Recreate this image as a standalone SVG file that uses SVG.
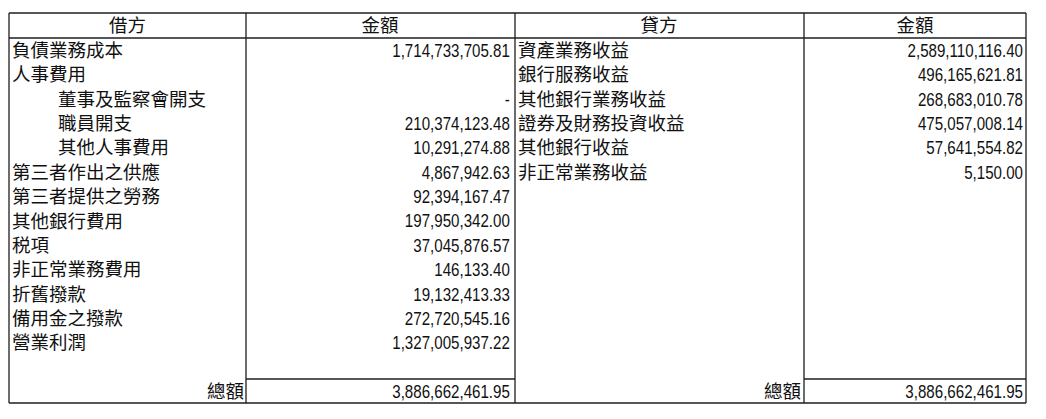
<svg xmlns="http://www.w3.org/2000/svg" width="1046" height="419" viewBox="0 0 1046 419">
<style>
.ln{stroke:#1e1e1e;stroke-width:1.3;fill:none}
.c{font-family:"Noto Sans CJK TC","Noto Sans CJK SC",sans-serif;font-size:18.5px;fill:#111}
.n{font-family:"Liberation Sans",Arial,sans-serif;font-size:18px;fill:#111;text-anchor:end}
.h{text-anchor:middle}
.e{text-anchor:end}
</style>
<rect width="1046" height="419" fill="#fff"/>
<g id="grid">
<line class="ln" x1="9" y1="13" x2="1026" y2="13"/>
<line class="ln" x1="9" y1="38" x2="1026" y2="38"/>
<line class="ln" x1="246" y1="379" x2="515" y2="379"/>
<line class="ln" x1="804" y1="379" x2="1026" y2="379"/>
<line class="ln" x1="9" y1="403" x2="1026" y2="403"/>
<line class="ln" x1="9" y1="13" x2="9" y2="403"/>
<line class="ln" x1="246" y1="13" x2="246" y2="403"/>
<line class="ln" x1="515" y1="13" x2="515" y2="403"/>
<line class="ln" x1="804" y1="13" x2="804" y2="403"/>
<line class="ln" x1="1026" y1="13" x2="1026" y2="403"/>
</g>
<g id="header">
<text class="c h" x="127.5" y="32">借方</text>
<text class="c h" x="380" y="32">金額</text>
<text class="c h" x="659" y="32">貸方</text>
<text class="c h" x="915" y="32">金額</text>
</g>
<g id="debit">
<text class="c" x="12" y="57">負債業務成本</text>
<text class="c" x="12" y="81.4">人事費用</text>
<text class="c" x="58" y="105.7">董事及監察會開支</text>
<text class="c" x="58" y="130.1">職員開支</text>
<text class="c" x="58" y="154.4">其他人事費用</text>
<text class="c" x="12" y="178.8">第三者作出之供應</text>
<text class="c" x="12" y="203.2">第三者提供之勞務</text>
<text class="c" x="12" y="227.5">其他銀行費用</text>
<text class="c" x="12" y="251.9">税項</text>
<text class="c" x="12" y="276.2">非正常業務費用</text>
<text class="c" x="12" y="300.6">折舊撥款</text>
<text class="c" x="12" y="325">備用金之撥款</text>
<text class="c" x="12" y="349.3">營業利潤</text>
<text class="c e" x="244" y="398">總額</text>
<g id="debit-amounts" transform="scale(0.84,1)">
<text class="n" x="607" y="57">1,714,733,705.81</text>
<text class="n" x="607" y="105.7">-</text>
<text class="n" x="607" y="130.1">210,374,123.48</text>
<text class="n" x="607" y="154.4">10,291,274.88</text>
<text class="n" x="607" y="178.8">4,867,942.63</text>
<text class="n" x="607" y="203.2">92,394,167.47</text>
<text class="n" x="607" y="227.5">197,950,342.00</text>
<text class="n" x="607" y="251.9">37,045,876.57</text>
<text class="n" x="607" y="276.2">146,133.40</text>
<text class="n" x="607" y="300.6">19,132,413.33</text>
<text class="n" x="607" y="325">272,720,545.16</text>
<text class="n" x="607" y="349.3">1,327,005,937.22</text>
<text class="n" x="607" y="398">3,886,662,461.95</text>
</g>
</g>
<g id="credit">
<text class="c" x="518" y="57">資產業務收益</text>
<text class="c" x="518" y="81.4">銀行服務收益</text>
<text class="c" x="518" y="105.7">其他銀行業務收益</text>
<text class="c" x="518" y="130.1">證券及財務投資收益</text>
<text class="c" x="518" y="154.4">其他銀行收益</text>
<text class="c" x="518" y="178.8">非正常業務收益</text>
<text class="c e" x="801" y="398">總額</text>
<g id="credit-amounts" transform="scale(0.84,1)">
<text class="n" x="1217.8" y="57">2,589,110,116.40</text>
<text class="n" x="1217.8" y="81.4">496,165,621.81</text>
<text class="n" x="1217.8" y="105.7">268,683,010.78</text>
<text class="n" x="1217.8" y="130.1">475,057,008.14</text>
<text class="n" x="1217.8" y="154.4">57,641,554.82</text>
<text class="n" x="1217.8" y="178.8">5,150.00</text>
<text class="n" x="1217.8" y="398">3,886,662,461.95</text>
</g>
</g>
</svg>
